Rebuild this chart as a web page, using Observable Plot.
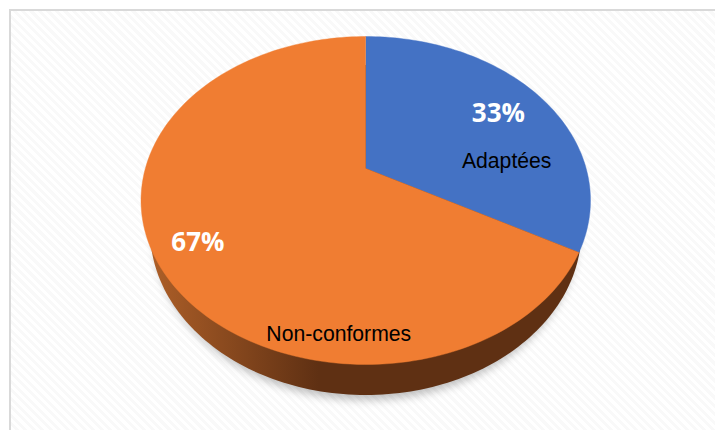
<!DOCTYPE html>
<html><head><meta charset="utf-8">
<script src="https://cdn.jsdelivr.net/npm/d3@7"></script>
<script src="https://cdn.jsdelivr.net/npm/@observablehq/plot@0.6"></script>
<style>
html,body{margin:0;padding:0;background:#fff;overflow:hidden}
#page{position:absolute;left:0;top:0;width:715px;height:430px;background:#fff}
#panel{position:absolute;left:9px;top:9px;width:706px;height:421px;box-sizing:border-box;border-left:2px solid #d9d9d9;border-top:2px solid #d9d9d9;
background:repeating-linear-gradient(45deg,#fff 0 3px,#f9f9f9 3px 6px)}
#chart{position:absolute;left:0;top:0}
</style></head><body>
<div id="page"><div id="panel"></div><div id="chart"></div></div>
<script>
const labels = ["Adaptées", "Non-conformes"];
const values = [33, 67];
const colors = ["#4472c4", "#f07d32"];

const tilt = -0.195, steps = 240;
const total = d3.sum(values);
// perspective view of a round disc: its centre lands off the middle of the ellipse
const project = (f) => {
  const a = 2 * Math.PI * f, sx = Math.sin(a), sy = -Math.cos(a), k = 1 + tilt * sy;
  return {x: sx * Math.sqrt(1 - tilt * tilt) / k, y: (sy + tilt) / k};
};
let start = 0;
const slices = labels.flatMap((label, i) => {
  const f0 = start, f1 = start + values[i] / total;
  start = f1;
  const pts = [{label, x: 0, y: tilt}];
  const n = Math.ceil(steps * (f1 - f0));
  for (let j = 0; j <= n; ++j) pts.push({label, ...project(f0 + (f1 - f0) * j / n)});
  return pts;
});
const rim = d3.range(steps + 1).map((j) => {
  const a = 2 * Math.PI * j / steps;
  return {x: 0.96 * Math.sin(a), y: 0.18 + 1.006 * Math.cos(a)};
});
const shadow = rim.map((d) => ({x: d.x * 0.98, y: d.y + 0.03}));
const spots = [
  {text: "33%", x: 0.59, y: -0.53, big: true},
  {text: labels[0], x: 0.627, y: -0.238, big: false},
  {text: "67%", x: -0.747, y: 0.256, big: true},
  {text: labels[1], x: -0.12, y: 0.817, big: false}
];
const defs = () => {
  const d = d3.create("svg:defs");
  const g = d.append("linearGradient").attr("id", "wall").attr("x1", 0).attr("x2", 1).attr("y1", 0).attr("y2", 0);
  g.append("stop").attr("offset", 0).attr("stop-color", "#ad5f28");
  g.append("stop").attr("offset", 0.39).attr("stop-color", "#5f3013");
  g.append("stop").attr("offset", 1).attr("stop-color", "#5f3013");
  return d.node();
};
const chart = Plot.plot({
  width: 715, height: 430, margin: 0,
  style: {background: "transparent"},
  x: {domain: [-1, 1], range: [140.5, 590], axis: null},
  y: {domain: [-1, 1], range: [36, 364], axis: null},
  color: {domain: labels, range: colors},
  marks: [
    defs,
    Plot.line(shadow, {x: "x", y: "y", fill: "#000", fillOpacity: 0.25, stroke: "none", imageFilter: "blur(4px)"}),
    Plot.line(rim, {x: "x", y: "y", fill: "url(#wall)", stroke: "none"}),
    Plot.line(slices, {x: "x", y: "y", z: "label", fill: "label", stroke: "label", strokeWidth: 0.4}),
    Plot.text(spots.filter((d) => d.big), {x: "x", y: "y", text: "text", fill: "#fff", fontSize: 26, fontWeight: 700, fontFamily: "Open Sans"}),
    Plot.text(spots.filter((d) => !d.big), {x: "x", y: "y", text: "text", fill: "#000", fontSize: 21.2, fontFamily: "Liberation Sans"})
  ]
});
document.getElementById("chart").appendChild(chart);
</script>
</body></html>
